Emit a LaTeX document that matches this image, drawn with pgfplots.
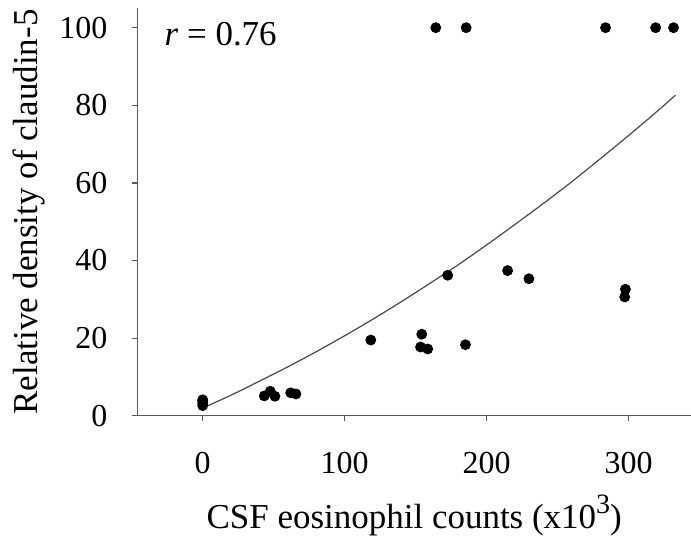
\documentclass[border=0pt]{standalone}
\usepackage{fontspec}
\setmainfont{Liberation Serif}
\usepackage{pgfplots}
\pgfplotsset{compat=1.18}
\definecolor{axgray}{RGB}{90,90,90}
\begin{document}
\begin{tikzpicture}
\begin{axis}[
  scale only axis,
  width=277pt, height=203.85pt,
  xmin=-46, xmax=344,
  ymin=0, ymax=105,
  axis x line=bottom, axis y line=left,
  axis line style={-, axgray, line width=0.6pt},
  every tick/.style={axgray, line width=0.6pt},
  tick align=outside,
  major tick length=2.5pt,
  xtick={0,100,200,300},
  ytick={0,20,40,60,80,100},
  minor tick num=0,
  /pgf/number format/assume math mode=true,
  ticklabel style={font=\fontsize{16}{18}\selectfont, inner sep=0pt},
  xticklabel style={anchor=north, yshift=-15.5pt},
  yticklabel style={anchor=east, xshift=-12.3pt},
  xlabel={CSF eosinophil counts (x10\raisebox{0.42em}{\fontsize{14}{16}\selectfont 3})},
  ylabel={Relative density of claudin-5},
  label style={font=\fontsize{17.5}{20}\selectfont},
  xlabel style={at={([yshift=-49.75pt]rel axis cs:0.5,0)}, anchor=center},
  ylabel style={at={([xshift=-54.25pt]rel axis cs:0,0.5)}, anchor=center, rotate=0},
  clip=false,
]
\addplot[only marks, mark=*, mark size=2.5pt, black] coordinates {
  (0,2.6) (0,3.2) (0,3.8) (0,4.1)
  (43.4,5.1) (47.6,6.3) (50.9,5.0) (62,5.9) (65.7,5.6)
  (118.4,19.5)
  (153.5,17.7) (154.3,21.0) (158.5,17.2)
  (172.6,36.2)
  (185.1,18.3)
  (214.8,37.4) (229.8,35.3)
  (297.3,30.6) (297.8,32.6)
  (164.2,100) (185.6,100) (283.8,100) (319.1,100) (331.7,100)
};
\addplot[smooth, axgray!80!black, line width=0.6pt] coordinates {
  (2,2.3) (20,5.3) (40,8.9) (60,12.6) (80,16.5) (100,20.6) (120,24.9)
  (140,29.4) (160,34.1) (180,38.9) (200,44.0) (220,49.3) (240,54.7)
  (260,60.3) (280,66.2) (300,72.2) (320,78.4) (333,82.6)
};
\node[anchor=base west, inner sep=0pt, font=\fontsize{17.5}{20}\selectfont] at (axis cs:-27.1,95.3) {\textit{r} = 0.76};
\end{axis}
\pgfresetboundingbox
\path ([shift={(-68.75pt,-60.5pt)}]current axis.south west) rectangle ([shift={(0pt,4.15pt)}]current axis.north east);
\end{tikzpicture}
\end{document}
